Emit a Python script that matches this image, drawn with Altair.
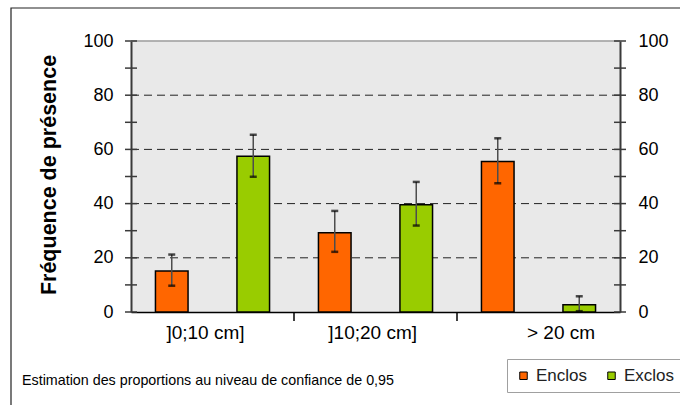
import altair as alt
import pandas as pd

# Presence frequency (%) by diameter class, with 95% confidence bounds
categories = ["]0;10 cm]", "]10;20 cm]", "> 20 cm"]
groups = ["Enclos", "Exclos"]
enclos_freq = [15.1, 29.2, 55.5]
enclos_low = [9.7, 22.2, 47.5]
enclos_high = [21.2, 37.3, 64.1]
exclos_freq = [57.5, 39.6, 2.7]
exclos_low = [49.9, 31.9, 0.3]
exclos_high = [65.4, 48.0, 5.8]

label_ticks = [0, 20, 40, 60, 80, 100]
cross_ticks = [0, 10, 20, 30, 40, 50, 60, 70, 80, 90, 100]
dashed_grid = [20, 40, 60, 80]
top_line = [100]
divider_cats = ["]10;20 cm]", "> 20 cm"]
footnote = "Estimation des proportions au niveau de confiance de 0,95"

rows = []
for i, c in enumerate(categories):
    rows.append({"cat": c, "grp": "Enclos", "freq": enclos_freq[i],
                 "lo": enclos_low[i], "hi": enclos_high[i]})
    rows.append({"cat": c, "grp": "Exclos", "freq": exclos_freq[i],
                 "lo": exclos_low[i], "hi": exclos_high[i]})
df = pd.DataFrame(rows)

W, H = 489, 271
ydom = alt.Scale(domain=[0, 100], nice=False, zero=True)
xscale = alt.Scale(paddingInner=0, paddingOuter=0)
FONT = "Liberation Sans"

x_enc = alt.X(
    "cat:N", sort=categories, scale=xscale,
    axis=alt.Axis(
        title=None, labelAngle=0, grid=False,
        domain=True, domainColor="black", domainWidth=1.5,
        ticks=False,
        labelOffset={"condition": [
            {"test": "datum.value == '> 20 cm'", "value": 22.5},
            {"test": "datum.value == ']0;10 cm]'", "value": -7}],
            "value": -2.8},
        labelPadding=11, labelFontSize=19, labelColor="black",
    ),
)
xoff = alt.XOffset("grp:N", sort=groups,
                   scale=alt.Scale(paddingInner=0.6, paddingOuter=0.3))

y_left = alt.Y(
    "freq:Q", scale=ydom,
    axis=alt.Axis(
        values=label_ticks, ticks=False, grid=False,
        domain=True, domainColor="#3a3a3a", domainWidth=2,
        labelFontSize=18, labelPadding=18, labelColor="black",
        title="Fréquence de présence", titleFontSize=21.5, titleFontWeight="bold",
        titleColor="black", titleAngle=-90, titleBaseline="middle", titleAlign="center",
        titleX=-82, titleY=H / 2 - 2,
    ),
)

base = alt.Chart(df)

bars = base.mark_bar(stroke="black", strokeWidth=1.5).encode(
    x=x_enc, xOffset=xoff, y=y_left,
    color=alt.Color(
        "grp:N",
        scale=alt.Scale(domain=groups, range=["#ff6600", "#99cc00"]),
        legend=alt.Legend(
            title=None, orient="none", legendX=376, legendY=318,
            direction="horizontal", symbolType="square", symbolSize=56,
            symbolStrokeColor="black", symbolStrokeWidth=1,
            labelFontSize=17, labelColor="#222", labelOffset=4,
            strokeColor="#a0a0a0", fillColor="white", padding=8,
            columnPadding=15,
        ),
    ),
)

err_line = base.mark_rule(color="#4d4d4d", strokeWidth=1.5).encode(
    x=alt.X("cat:N", sort=categories, scale=xscale), xOffset=xoff,
    y=alt.Y("lo:Q", scale=ydom), y2="hi:Q",
)
cap_hi = base.mark_tick(color="black", thickness=2.5, size=7).encode(
    x=alt.X("cat:N", sort=categories, scale=xscale), xOffset=xoff,
    y=alt.Y("hi:Q", scale=ydom),
)
cap_lo = base.mark_tick(color="black", thickness=2.5, size=7).encode(
    x=alt.X("cat:N", sort=categories, scale=xscale), xOffset=xoff,
    y=alt.Y("lo:Q", scale=ydom),
)

# short separators below the baseline, at the left edge of each later class
dividers = alt.Chart(pd.DataFrame({"cat": divider_cats})).mark_rule(
    color="black", strokeWidth=1.5
).encode(
    x=alt.X("cat:N", sort=categories, scale=xscale, bandPosition=0),
    y=alt.value(H), y2=alt.value(H + 9),
)

grid = alt.Chart(pd.DataFrame({"v": dashed_grid})).mark_rule(
    color="#222", strokeWidth=1, strokeDash=[8, 5]
).encode(y=alt.Y("v:Q", scale=ydom), x=alt.value(0), x2=alt.value(W))

top = alt.Chart(pd.DataFrame({"v": top_line})).mark_rule(
    color="#9a9a9a", strokeWidth=1.5
).encode(y=alt.Y("v:Q", scale=ydom), x=alt.value(0), x2=alt.value(W))

ticks_left = alt.Chart(pd.DataFrame({"v": cross_ticks})).mark_rule(
    color="#3a3a3a", strokeWidth=1.5
).encode(y=alt.Y("v:Q", scale=ydom), x=alt.value(-6), x2=alt.value(6))

note = alt.Chart(pd.DataFrame({"t": [footnote]})).mark_text(
    align="left", baseline="alphabetic", fontSize=14.3,
    font=FONT, color="black"
).encode(text="t:N", x=alt.value(22 - 131), y=alt.value(385 - 41))

frame = alt.Chart(pd.DataFrame({"f": [1]})).mark_rect(
    fillOpacity=0, stroke="#222", strokeWidth=1.2
).encode(x=alt.value(11 - 131), x2=alt.value(W + 120),
         y=alt.value(8 - 41), y2=alt.value(H + 120))

left = alt.layer(frame, grid, top, bars, err_line, cap_hi, cap_lo,
                 dividers, ticks_left, note)

right = alt.Chart(pd.DataFrame({"v": cross_ticks})).mark_rule(
    color="#3a3a3a", strokeWidth=1.5
).encode(
    y=alt.Y("v:Q", scale=ydom, axis=alt.Axis(
        orient="right", values=label_ticks, ticks=False, grid=False,
        domain=True, domainColor="#3a3a3a", domainWidth=2,
        labelFontSize=18, labelPadding=18, labelColor="black", title=None)),
    x=alt.value(W - 6), x2=alt.value(W + 6),
)

chart = alt.layer(left, right).resolve_scale(y="independent").properties(
    width=W, height=H,
    autosize=alt.AutoSizeParams(type="none"),
    padding={"left": 131, "top": 41, "right": 60, "bottom": 93},
    background="white",
).configure(font=FONT).configure_view(fill="#e9e9e9", stroke="transparent")

chart.save("out.html", embed_options={"renderer": "svg", "actions": False})
